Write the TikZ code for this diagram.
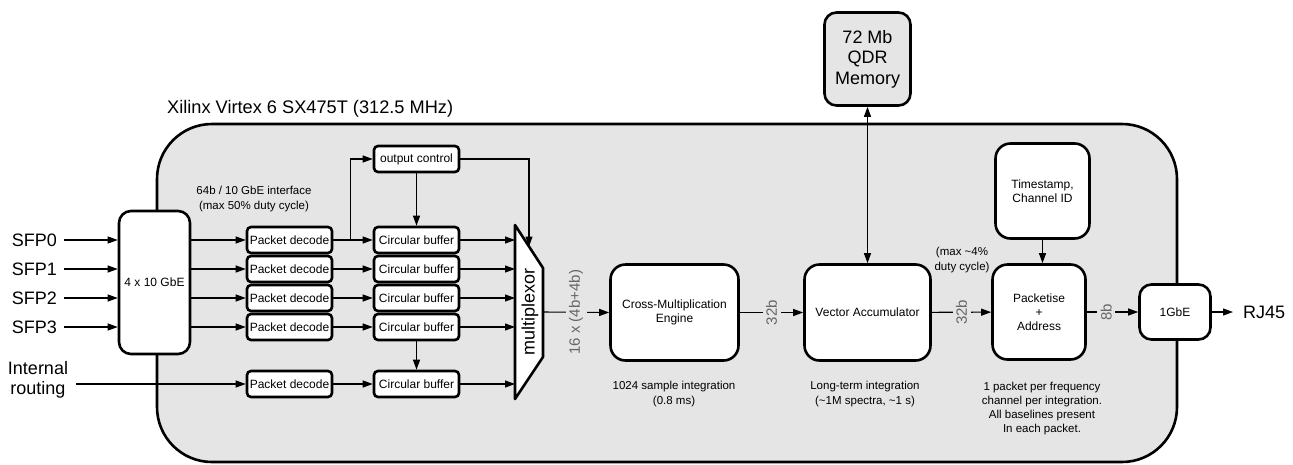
\documentclass[tikz,border=0pt]{standalone}
\usepackage{fontspec}
\setmainfont{Liberation Sans}
\usetikzlibrary{calc,arrows.meta,positioning}
\definecolor{fpgagray}{gray}{0.9}

\begin{document}
\begin{tikzpicture}[x=1pt,y=-1pt]
    \useasboundingbox (0,0) rectangle (1293,464);
    %
    \tikzset{
        blk/.style={draw, line width=2.6pt, fill=white, rounded corners=15pt, align=center, inner sep=2pt, font=\fontsize{12}{14}\selectfont},
        sblk/.style={blk, rounded corners=4pt, minimum width=85pt, minimum height=26pt},
        conn/.style={line width=1.1pt, -{Triangle[length=10pt,width=7pt]}},
        dconn/.style={line width=1.1pt, {Triangle[length=10pt,width=7pt]}-{Triangle[length=10pt,width=7pt]}},
        bits/.style={rotate=90, fill=fpgagray, text=gray!80!black, inner sep=3.5pt, font=\fontsize{15}{15}\selectfont},
        note/.style={align=center, font=\fontsize{11.5}{14.2}\selectfont},
        big/.style={font=\fontsize{18}{20.5}\selectfont}
    }

    %
    \draw[line width=2.6pt, fill=fpgagray, rounded corners=55pt] (157,124) rectangle (1177,462);
    \node[anchor=base west, inner sep=0, font=\fontsize{18.2}{20}\selectfont] (fpgatitle) at (167,113) {Xilinx Virtex 6 SX475T (312.5 MHz)};

    %
    \node[blk, rounded corners=12pt, minimum width=71pt, minimum height=143pt] (gbe) at (154.5,282.5) {4 x 10 GbE};

    %
    \coordinate (muxtl) at (515,225);
    \coordinate (muxtr) at (543,268);
    \coordinate (muxbr) at (543,357);
    \coordinate (muxbl) at (515,399);
    \draw[line width=2.6pt, line join=round, fill=white] (muxtl) -- (muxtr) -- (muxbr) -- (muxbl) -- cycle;
    \node[big, rotate=90] (muxlabel) at (530,312) {multiplexor};
    \coordinate (muxout) at (543,312);

    %
    \foreach \i/\y in {0/240,1/269,2/298,3/327} {
        \node[big, anchor=east, inner sep=0] (sfp\i) at (57,\y) {SFP\i};
        \draw[conn] ([xshift=7pt]sfp\i.east) -- (sfp\i.east -| gbe.west);
        \node[sblk] (pd\i) at (289.5,\y) {Packet decode};
        \node[sblk] (cb\i) at (416.5,\y) {Circular buffer};
        \draw[conn] (pd\i.west -| gbe.east) -- (pd\i.west);
        \draw[conn] (pd\i) -- (cb\i);
        \draw[conn] (cb\i) -- (cb\i.east -| muxtl);
    }

    %
    \node[big, align=center, inner sep=0] (introute) at (38,380) {Internal\\routing};
    \node[sblk] (pd4) at (289.5,384) {Packet decode};
    \node[sblk] (cb4) at (416.5,384) {Circular buffer};
    \draw[conn] ([xshift=8pt]introute.east |- pd4.west) -- (pd4.west);
    \draw[conn] (pd4) -- (cb4);
    \draw[conn] (cb4) -- (cb4.east -| muxtl);
    \draw[conn] (cb3) -- (cb4);

    %
    \node[sblk] (outctl) at (416.5,159) {output control};
    \draw[conn] (pd0.east) -- ++(17,0) |- (outctl.west);
    \draw[conn] (outctl) -- (cb0);
    \draw[conn] (outctl.east) -| ($(muxtl)!0.5!(muxtr)$);
    \node[note] (ifnote) at (254,199) {64b / 10 GbE interface\\(max 50\% duty cycle)};

    %
    \node[blk, minimum width=128pt, minimum height=96pt] (cme) at (674.5,312.5) {Cross-Multiplication\\Engine};
    \node[blk, minimum width=126pt, minimum height=96pt] (va) at (867.5,312.5) {Vector Accumulator};
    \node[blk, big, fill=fpgagray, rounded corners=12pt, minimum width=86pt, minimum height=93pt] (qdr) at (867.5,59) {72 Mb\\QDR\\Memory};
    \node[blk, minimum width=93pt, minimum height=95pt] (pkt) at (1039,312) {Packetise\\+\\Address};
    \node[blk, minimum width=94pt, minimum height=95pt] (ts) at (1042.5,191) {Timestamp,\\Channel ID};
    \node[blk, rounded corners=12pt, minimum width=71pt, minimum height=55pt] (ge1) at (1175,312) {1GbE};
    \node[big, anchor=west, inner sep=0] (rj45) at (1243,312) {RJ45};

    %
    \draw[conn] (muxout) -- node[bits] (muxbits) {16 x (4b+4b)} (cme.west);
    \draw[conn] (cme) -- node[bits] (cmebits) {32b} (va);
    \draw[conn] (va) -- node[bits] (vabits) {32b} (pkt);
    \draw[conn] (pkt) -- node[bits, pos=0.38] (pktbits) {8b} (ge1);
    \draw[conn] (ge1.east) -- ([xshift=-10pt]rj45.west);
    \draw[dconn] (qdr) -- (va);
    \draw[conn] (ts.south) -- (ts.south |- pkt.north);

    %
    \node[note] (cmenote) at (674,394) {1024 sample integration\\(0.8 ms)};
    \node[note] (vanote) at (865,394) {Long-term integration\\(\textasciitilde 1M spectra, \textasciitilde 1 s)};
    \node[note] (dutynote) at (962,260) {(max \textasciitilde 4\%\\duty cycle)};
    \node[note] (pktnote) at (1042,408.5) {1 packet per frequency\\channel per integration.\\All baselines present\\In each packet.};

\end{tikzpicture}
\end{document}
